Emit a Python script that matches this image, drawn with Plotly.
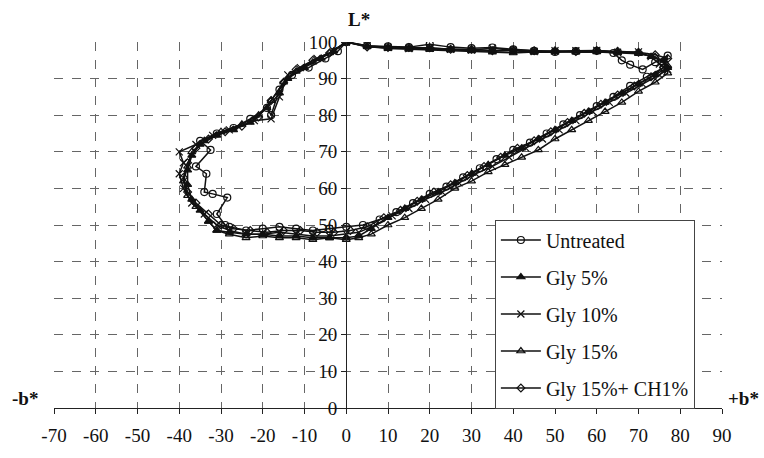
import plotly.graph_objects as go

# ---- data (b*, L*) ----
untreated_b = [0, 5, 10, 15, 20, 25, 30, 35, 40, 45, 50, 55, 60, 64, 66, 68, 71, 74, 77, 76, 72, 68, 64, 60, 56, 52, 48, 44, 40, 36, 32, 28, 24, 20, 16, 12, 8, 4, 0, -4, -8, -12, -16, -20, -24, -28, -29, -31, -28.5, -32, -34, -33.5, -36, -32.5, -35, -31, -27, -23, -19, -18, -16, -13, -9, -5, -2, 0]
untreated_L = [100, 99, 98.8, 98.6, 99.4, 98.6, 98.3, 98.5, 98, 97.6, 97.3, 97.5, 97.6, 97, 95, 93.8, 92.5, 94.5, 96.3, 93, 90.5, 88, 85, 82.5, 80, 77.5, 75, 72.5, 70.5, 68, 65.5, 63, 60.5, 58.5, 56, 53.5, 51.5, 50, 49.5, 49, 48.5, 49, 49.5, 49, 48.5, 49.5, 50, 53, 57.5, 58.5, 59, 64, 66, 70.5, 73, 75, 76.5, 79, 82, 80, 87, 91, 93, 95.5, 97.5, 100]

gly5_b = [0, 5, 10, 15, 20, 25, 30, 35, 40, 45, 50, 55, 60, 65, 70, 73, 76, 77, 74, 70, 66, 62, 58, 54, 50, 46, 42, 38, 34, 30, 26, 22, 18, 14, 10, 6, 3, 0, -4, -8, -12, -16, -20, -24, -28, -31, -33, -35, -37, -38, -38, -37, -35, -31, -27, -23, -19, -16, -14, -10, -6, -3, 0]
gly5_L = [100, 98.8, 98.2, 98, 98, 97.8, 97.6, 97.2, 97, 97.3, 97.2, 97.4, 97.5, 97.3, 97, 96, 95, 93, 91, 88.5, 86, 83.5, 81, 78.5, 76, 73.5, 71, 69, 66.5, 64, 61.5, 59, 57, 54.5, 52, 49, 47, 46.5, 46.5, 46.5, 47, 47, 47.5, 47.5, 48, 48.5, 51, 54, 57, 61, 65, 69, 72, 74.5, 76, 78, 82, 86, 90, 93, 95.5, 97.5, 100]

gly10_b = [0, 5, 10, 15, 20, 25, 30, 35, 40, 45, 50, 55, 60, 65, 70, 73, 75, 77, 75, 71, 67, 63, 59, 55, 51, 47, 43, 39, 35, 31, 27, 23, 19, 15, 11, 7, 3, 0, -4, -8, -12, -16, -20, -24, -28, -31, -34, -37, -39, -40, -39, -40, -36, -32, -28, -22, -18, -16, -14, -11, -7, -3, 0]
gly10_L = [100, 99, 98.5, 98.2, 98.3, 98, 97.8, 98.3, 97.7, 97.4, 97.6, 97.6, 97.7, 97.2, 97.3, 96, 94, 92.5, 91, 88.5, 86, 83.5, 81, 78.5, 76, 73.5, 71, 68.5, 66, 64, 61.5, 59, 57, 54.5, 52.5, 50, 48, 47.5, 47, 47, 47.5, 48, 47.5, 47.5, 48.5, 50, 53, 56, 60, 64, 67, 70, 72, 74.5, 76, 78.5, 79, 85, 91, 93, 95.5, 97.5, 100]

gly15_b = [0, 5, 10, 15, 20, 25, 30, 35, 40, 45, 50, 55, 60, 65, 70, 74, 77, 77, 74, 70, 66, 62, 58, 54, 50, 46, 42, 38, 34, 30, 26, 22, 18, 14, 10, 6, 3, 0, -4, -8, -12, -16, -20, -24, -28, -31, -33, -36, -38, -39, -38, -37, -34, -30, -25, -21, -18, -15, -12, -8, -4, 0]
gly15_L = [100, 98.8, 98.4, 98.2, 98, 97.9, 97.8, 97.5, 97.6, 97.2, 97.5, 97.2, 97.3, 97, 96.8, 96, 93.5, 91.5, 89, 86.5, 83.5, 81, 78.5, 76, 73.5, 70.5, 68.5, 66.5, 64.5, 62, 60, 57, 54.5, 52, 50, 47.5, 46.5, 46, 46.5, 46, 46.5, 46.5, 47, 46.5, 47.5, 48.5, 51, 55, 58, 62, 66, 70, 73, 75.5, 77.5, 80, 84, 89, 92, 94.5, 97, 100]

gly15ch_b = [0, 5, 10, 15, 20, 25, 30, 35, 40, 45, 50, 55, 60, 65, 70, 74, 77, 76, 73, 69, 65, 61, 57, 53, 49, 45, 41, 37, 33, 29, 25, 21, 17, 13, 9, 5, 1, -3, -7, -11, -15, -19, -23, -27, -30, -33, -36, -38, -39, -38, -36, -33, -29, -25, -21, -18, -15, -12, -8, -4, 0]
gly15ch_L = [100, 98.6, 98.5, 98.5, 98.4, 98, 98, 97.6, 97.8, 97.6, 97.6, 97.4, 97.7, 97.5, 97.2, 96.5, 95.5, 93, 90.5, 88, 85.5, 83, 80.5, 78, 75.5, 73, 71, 68.5, 66, 63.5, 61, 59, 56.5, 54, 52, 49.5, 48.5, 48, 48, 48.5, 48.5, 48, 48.5, 49, 50, 53, 56, 59, 63, 67, 71, 73.5, 75.5, 77, 79.5, 84, 89, 92.5, 95, 97, 100]

series_names = ["Untreated", "Gly 5%", "Gly 10%", "Gly 15%", "Gly 15%+ CH1%"]
x_ticks = list(range(-70, 91, 10))
y_ticks = list(range(0, 101, 10))

FONT = "Liberation Serif"

styles = [
    dict(symbol="circle-open", size=7),
    dict(symbol="triangle-up", size=7),
    dict(symbol="x-thin-open", size=7),
    dict(symbol="triangle-up-open", size=7),
    dict(symbol="diamond-open", size=6),
]
data = [(untreated_b, untreated_L), (gly5_b, gly5_L), (gly10_b, gly10_L),
        (gly15_b, gly15_L), (gly15ch_b, gly15ch_L)]

fig = go.Figure()
for i, ((bx, ly), name, st) in enumerate(zip(data, series_names, styles)):
    fig.add_trace(go.Scatter(
        x=bx, y=ly, name=name, mode="lines+markers", legendgroup=f"g{i}",
        line=dict(color="#111", width=1.5),
        marker=dict(symbol=st["symbol"], size=st["size"], color="#111",
                    line=dict(color="#111", width=1.2)),
    ))

x0_frac = (0 - (-70)) / 160.0

fig.update_layout(
    width=764, height=458,
    margin=dict(l=54, r=42, t=42, b=45),
    paper_bgcolor="white", plot_bgcolor="white",
    font=dict(family=FONT, size=19, color="#111"),
    showlegend=True,
    legend=dict(x=0.66, y=0.515, xanchor="left", yanchor="top",
                bgcolor="white", bordercolor="#444", borderwidth=1,
                font=dict(family=FONT, size=20, color="#111"),
                tracegroupgap=8, itemwidth=40),
    xaxis=dict(range=[-70, 90], tickvals=x_ticks, ticktext=[str(v) for v in x_ticks],
               showgrid=True, gridcolor="#666", griddash="dash", gridwidth=1,
               zeroline=True, zerolinecolor="#222", zerolinewidth=1.2,
               showline=True, linecolor="#222", linewidth=1.2,
               ticks="outside", ticklen=5, tickcolor="#222",
               tickfont=dict(family=FONT, size=19, color="#111"), ticklabelstandoff=5),
    yaxis=dict(range=[0, 100], tickvals=y_ticks, ticktext=[str(v) for v in y_ticks],
               anchor="free", position=x0_frac,
               showgrid=True, gridcolor="#666", griddash="dash", gridwidth=1,
               zeroline=False, showline=True, linecolor="#222", linewidth=1.2,
               ticks="outside", ticklen=5, tickcolor="#222",
               tickfont=dict(family=FONT, size=19, color="#111")),
    annotations=[
        dict(text="<b>L*</b>", xref="x", yref="paper", x=0, y=1.0, yshift=23,
             xanchor="left", yanchor="middle", xshift=0, showarrow=False,
             font=dict(family=FONT, size=19, color="#111")),
        dict(text="<b>-b*</b>", xref="paper", yref="y", x=0, y=0, xshift=-44,
             yanchor="bottom", xanchor="left", yshift=-3, showarrow=False,
             font=dict(family=FONT, size=19, color="#111")),
        dict(text="<b>+b*</b>", xref="paper", yref="y", x=1, y=0, xshift=4,
             yanchor="bottom", xanchor="left", yshift=-3, showarrow=False,
             font=dict(family=FONT, size=19, color="#111")),
    ],
)

fig.write_html("out.html")
